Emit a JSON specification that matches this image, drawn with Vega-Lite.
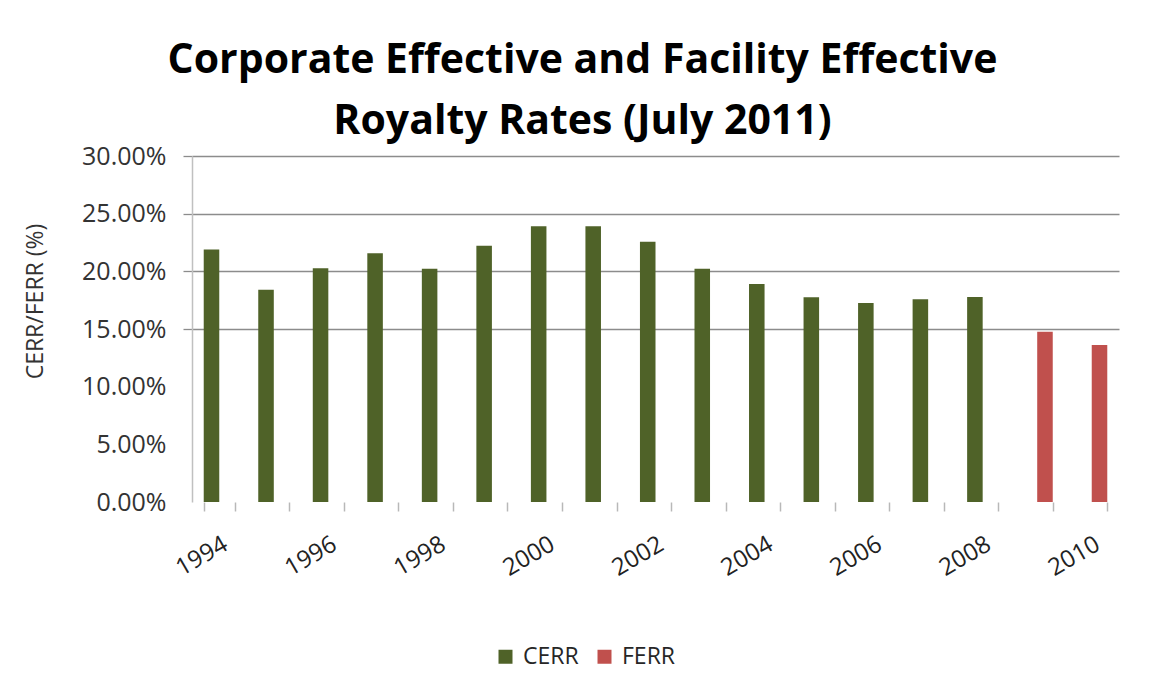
{
  "$schema": "https://vega.github.io/schema/vega-lite/v6.json",
  "width": 927,
  "height": 346,
  "autosize": "none",
  "padding": {"left": 192, "top": 156, "right": 32, "bottom": 194},
  "background": "white",
  "config": {"font": "Open Sans", "view": {"stroke": null}},
  "title": {
    "text": ["Corporate Effective and Facility Effective", "Royalty Rates (July 2011)"],
    "fontSize": 41,
    "fontWeight": "bold",
    "font": "Open Sans",
    "color": "#000000",
    "lineHeight": 61,
    "anchor": "middle",
    "frame": "group",
    "dx": -73,
    "dy": 60,
    "offset": 20,
    "baseline": "bottom"
  },
  "data": {
    "values": [
      {"year": 1994, "series": "CERR", "value": 0.219},
      {"year": 1995, "series": "CERR", "value": 0.184},
      {"year": 1996, "series": "CERR", "value": 0.2026},
      {"year": 1997, "series": "CERR", "value": 0.2156},
      {"year": 1998, "series": "CERR", "value": 0.2023},
      {"year": 1999, "series": "CERR", "value": 0.2222},
      {"year": 2000, "series": "CERR", "value": 0.239},
      {"year": 2001, "series": "CERR", "value": 0.239},
      {"year": 2002, "series": "CERR", "value": 0.2257},
      {"year": 2003, "series": "CERR", "value": 0.2023},
      {"year": 2004, "series": "CERR", "value": 0.189},
      {"year": 2005, "series": "CERR", "value": 0.1775},
      {"year": 2006, "series": "CERR", "value": 0.1725},
      {"year": 2007, "series": "CERR", "value": 0.1757},
      {"year": 2008, "series": "CERR", "value": 0.1777},
      {"year": 2009, "series": "FERR", "value": 0.1477},
      {"year": 2010, "series": "FERR", "value": 0.1361}
    ]
  },
  "mark": {"type": "bar"},
  "encoding": {
    "x": {
      "field": "year",
      "type": "ordinal",
      "scale": {"domain": [1994,1995,1996,1997,1998,1999,2000,2001,2002,2003,2004,2005,2006,2007,2008,2009,2010], "paddingInner": 0.43, "paddingOuter": 0.215},
      "axis": {
        "title": null,
        "labelExpr": "datum.value % 2 == 0 ? datum.label : ''",
        "labelAngle": -30,
        "labelAlign": "right",
        "labelBaseline": "top",
        "labelFontSize": 24,
        "labelColor": "#222222",
        "labelPadding": 21,
        "labelDx": -7,
        "labelOverlap": false,
        "tickBand": "extent",
        "tickSize": 9,
        "tickColor": "#b8b8b8",
        "tickWidth": 1.5,
        "domain": false,
        "grid": false
      }
    },
    "xOffset": {
      "field": "series",
      "type": "nominal",
      "scale": {"domain": ["CERR", "FERR"], "paddingInner": 0, "paddingOuter": 0}
    },
    "y": {
      "field": "value",
      "type": "quantitative",
      "scale": {"domain": [0, 0.3], "nice": false},
      "axis": {
        "title": "CERR/FERR (%)",
        "format": ".2%",
        "values": [0, 0.05, 0.1, 0.15, 0.2, 0.25, 0.3],
        "labelFontSize": 25,
        "labelColor": "#333333",
        "labelPadding": 17,
        "tickSize": 9,
        "tickColor": "#8c8c8c",
        "tickWidth": 1.3,
        "tickOpacity": {"condition": {"test": "datum.value < 0.14", "value": 0}, "value": 1},
        "grid": true,
        "gridColor": "#8c8c8c",
        "gridWidth": 1.3,
        "gridOpacity": {"condition": {"test": "datum.value < 0.14", "value": 0}, "value": 1},
        "domainColor": "#c0c0c0",
        "domainWidth": 1.5,
        "titleFontSize": 23,
        "titleFontWeight": "normal",
        "titleColor": "#333333",
        "titleAngle": -90,
        "titleAlign": "center",
        "titleBaseline": "middle",
        "titleX": -157,
        "titleY": 145
      }
    },
    "color": {
      "field": "series",
      "type": "nominal",
      "scale": {"domain": ["CERR", "FERR"], "range": ["#4f6228", "#c0504d"]},
      "legend": {
        "title": null,
        "orient": "none",
        "legendX": 302,
        "legendY": 489,
        "direction": "horizontal",
        "symbolType": "square",
        "symbolSize": 196,
        "symbolStrokeWidth": 0,
        "labelFontSize": 23,
        "labelColor": "#262626",
        "columnPadding": 14,
        "labelOffset": 6,
        "padding": 0
      }
    }
  }
}
